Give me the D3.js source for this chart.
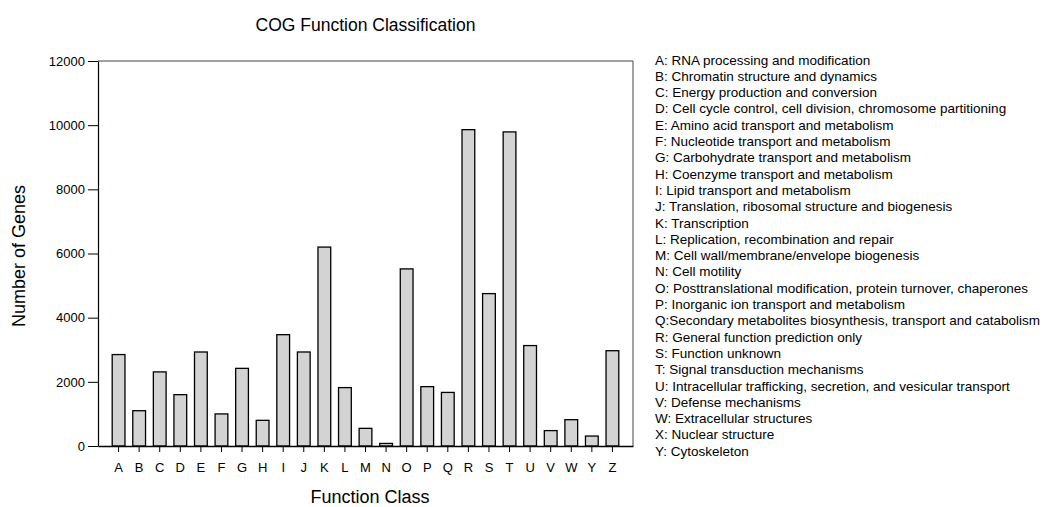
<!DOCTYPE html>
<html><head><meta charset="utf-8">
<script src="https://cdn.jsdelivr.net/npm/d3@7"></script>
<style>
body{margin:0;background:#fff;}
svg{display:block;font-family:"Liberation Sans",Arial,sans-serif;}
</style></head>
<body>
<svg id="chart" width="1048" height="507"></svg>
<script>
const categories = ["A","B","C","D","E","F","G","H","I","J","K","L","M","N","O","P","Q","R","S","T","U","V","W","Y","Z"];
const values = [2850,1100,2310,1600,2930,1000,2420,800,3470,2930,6200,1820,550,80,5520,1850,1670,9860,4750,9790,3130,480,820,310,2970];
const yTicks = [0,2000,4000,6000,8000,10000,12000];
const legendLabels = [
"A: RNA processing and modification",
"B: Chromatin structure and dynamics",
"C: Energy production and conversion",
"D: Cell cycle control, cell division, chromosome partitioning",
"E: Amino acid transport and metabolism",
"F: Nucleotide transport and metabolism",
"G: Carbohydrate transport and metabolism",
"H: Coenzyme transport and metabolism",
"I: Lipid transport and metabolism",
"J: Translation, ribosomal structure and biogenesis",
"K: Transcription",
"L: Replication, recombination and repair",
"M: Cell wall/membrane/envelope biogenesis",
"N: Cell motility",
"O: Posttranslational modification, protein turnover, chaperones",
"P: Inorganic ion transport and metabolism",
"Q:Secondary metabolites biosynthesis, transport and catabolism",
"R: General function prediction only",
"S: Function unknown",
"T: Signal transduction mechanisms",
"U: Intracellular trafficking, secretion, and vesicular transport",
"V: Defense mechanisms",
"W: Extracellular structures",
"X: Nuclear structure",
"Y: Cytoskeleton"
];
const titleText = "COG Function Classification";
const xTitle = "Function Class";
const yTitle = "Number of Genes";

const svg = d3.select("#chart");
const m = {left:98, top:61, right:633, bottom:446};

const x = d3.scaleBand().domain(categories).range([m.left, m.right]).paddingInner(0.38).paddingOuter(0.69);
const y = d3.scaleLinear().domain([0,12000]).range([m.bottom, m.top]);

// frame top/right
svg.append("path")
  .attr("d", `M${m.left},${m.top}H${m.right}V${m.bottom}`)
  .attr("fill","none").attr("stroke","#444").attr("stroke-width",1);

// bars
svg.append("g").selectAll("rect").data(categories).join("rect")
  .attr("x", d => x(d))
  .attr("y", (d,i) => y(values[i]))
  .attr("width", x.bandwidth())
  .attr("height", (d,i) => y(0) - y(values[i]))
  .attr("fill","#d3d3d3").attr("stroke","#000").attr("stroke-width",1.3);

// y axis
const yAxis = svg.append("g").attr("transform",`translate(${m.left},0)`)
  .call(d3.axisLeft(y).tickValues(yTicks).tickFormat(d3.format("d")).tickSize(10).tickPadding(3).tickSizeOuter(0));
yAxis.select(".domain").attr("stroke","#000").attr("stroke-width",1.2);
yAxis.selectAll(".tick line").attr("stroke","#000");
yAxis.selectAll("text").attr("font-size",13).attr("fill","#000").attr("font-family","Liberation Sans, Arial, sans-serif");

// x axis
const xAxis = svg.append("g").attr("transform",`translate(0,${m.bottom})`)
  .call(d3.axisBottom(x).tickSize(6).tickPadding(11).tickSizeOuter(0));
xAxis.select(".domain").attr("stroke","#000").attr("stroke-width",1.5);
xAxis.selectAll(".tick line").attr("stroke","#000");
xAxis.selectAll("text").attr("font-size",13).attr("fill","#000").attr("font-family","Liberation Sans, Arial, sans-serif");

// titles
svg.append("text").attr("x",(m.left+m.right)/2).attr("y",31).attr("text-anchor","middle")
  .attr("font-size",17.5).text(titleText);
svg.append("text").attr("x",370).attr("y",503).attr("text-anchor","middle")
  .attr("font-size",18).text(xTitle);
svg.append("text").attr("transform",`translate(25,256) rotate(-90)`).attr("text-anchor","middle")
  .attr("font-size",18).text(yTitle);

// legend
svg.append("g").selectAll("text").data(legendLabels).join("text")
  .attr("x",655).attr("y",(d,i)=>64.5+i*16.3)
  .attr("font-size",13.5).attr("fill","#000").text(d=>d);
</script>
</body></html>
